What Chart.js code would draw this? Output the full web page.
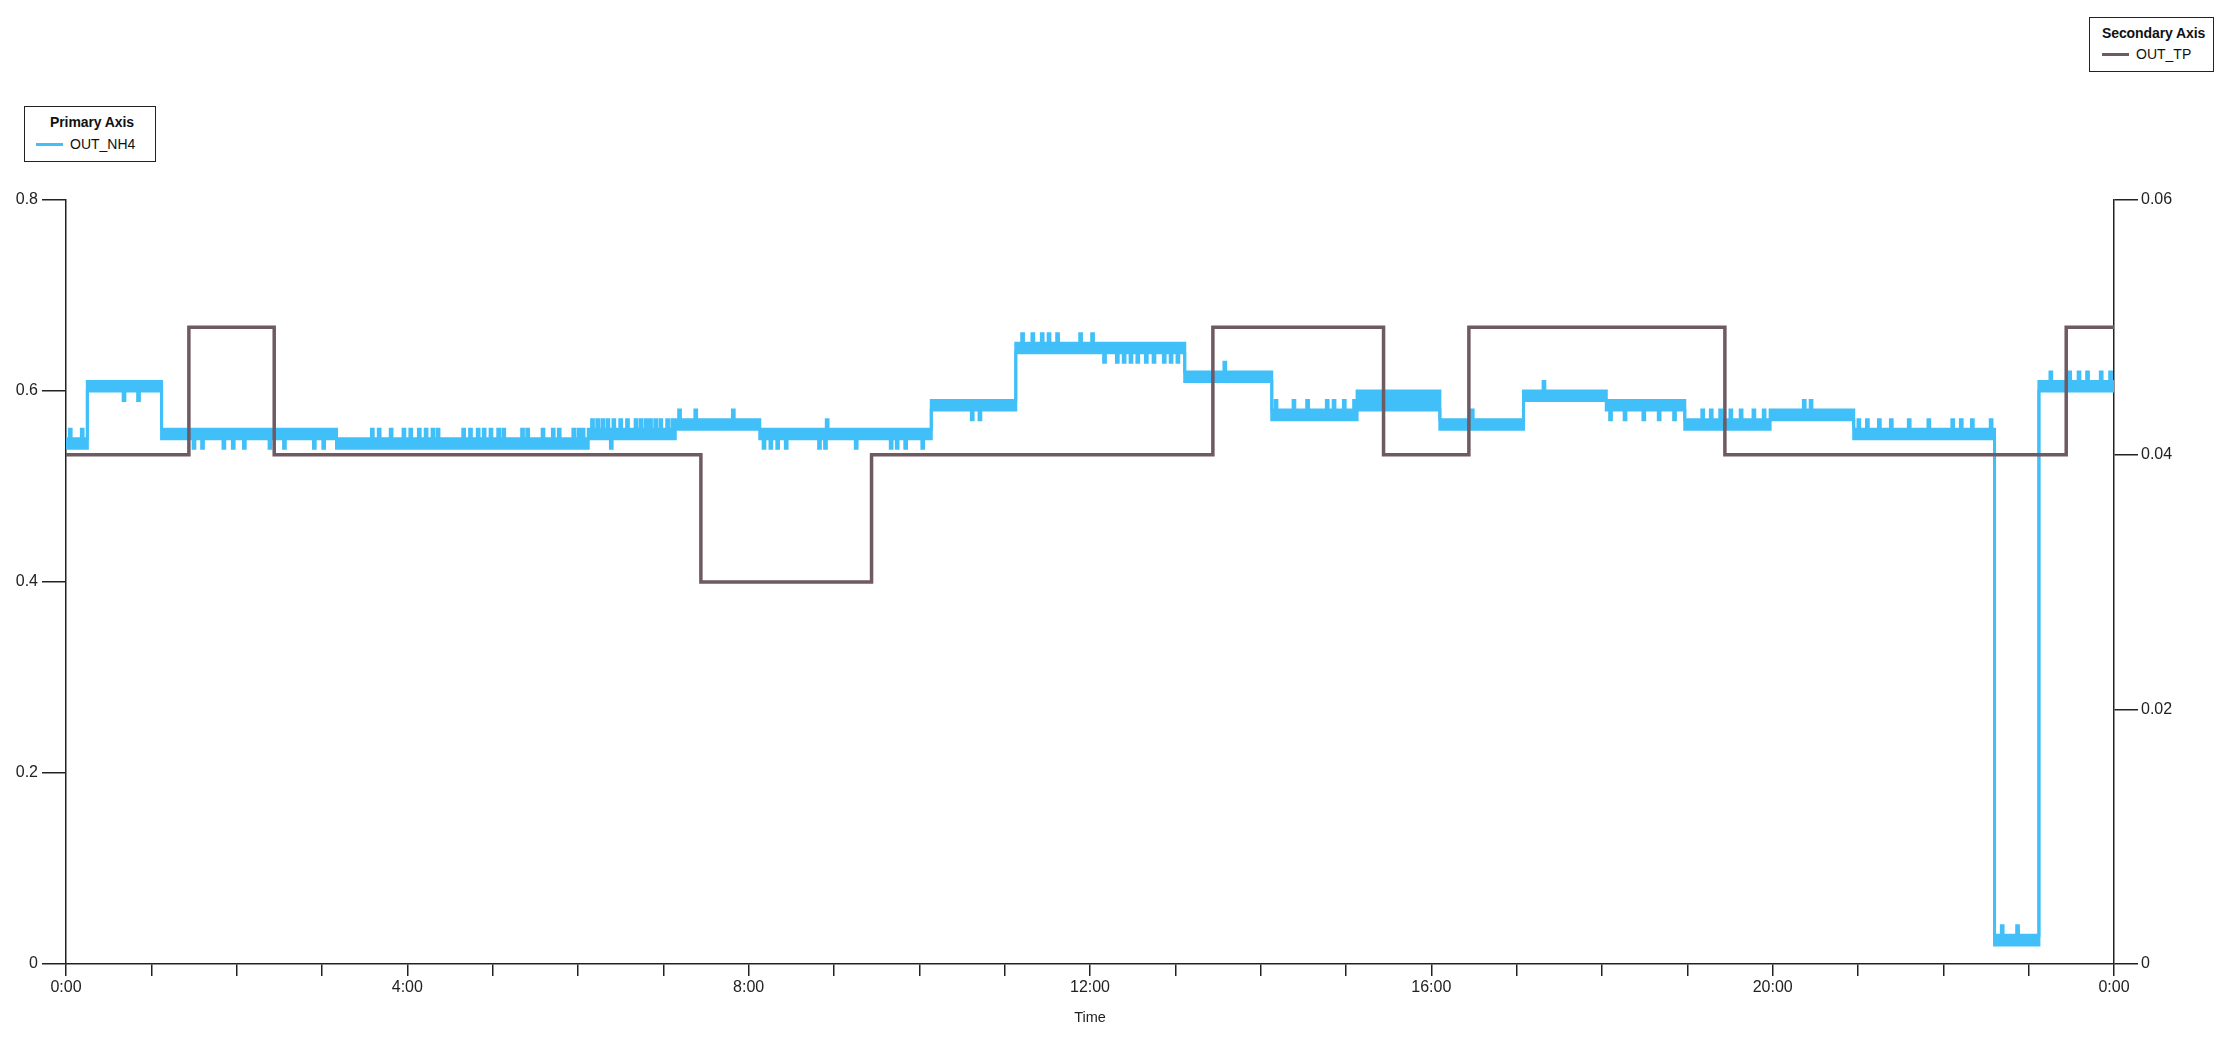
<!DOCTYPE html>
<html>
<head>
<meta charset="utf-8">
<title>OUT_NH4 / OUT_TP</title>
<script src="https://cdn.jsdelivr.net/npm/chart.js@4.4.1/dist/chart.umd.min.js"></script>
<style>
  html, body { margin: 0; padding: 0; background: #fff; }
  #wrap { position: relative; width: 2228px; height: 1041px; }
  .legend {
    position: absolute; box-sizing: border-box; background: #fff;
    border: 1.5px solid #222; color: #111;
    font-family: "Liberation Sans", Arial, sans-serif;
  }
  .legend .ttl { position: absolute; font-weight: bold; font-size: 14px; letter-spacing: -0.1px; white-space: nowrap; }
  .legend .swatch { position: absolute; height: 3px; width: 27px; }
  .legend .lbl { position: absolute; font-size: 14px; white-space: nowrap; }
</style>
</head>
<body>
<div id="wrap">
  <canvas id="chart"></canvas>
  <div class="legend" style="left:24px; top:106px; width:132px; height:56px;">
    <div class="ttl" style="left:25px; top:7px;">Primary Axis</div>
    <div class="swatch" style="left:11px; top:36px; background:#41bff8;"></div>
    <div class="lbl" style="left:45px; top:29px;">OUT_NH4</div>
  </div>
  <div class="legend" style="left:2089px; top:17px; width:125px; height:55px;">
    <div class="ttl" style="left:12px; top:7px;">Secondary Axis</div>
    <div class="swatch" style="left:12px; top:35px; background:#6e5a62;"></div>
    <div class="lbl" style="left:46px; top:28px;">OUT_TP</div>
  </div>
</div>
<script>
// OUT_NH4 (primary axis): hour each level starts, lower / upper value of the noisy band
let nh4Start = [0, 0.25, 1.12, 3.17, 6.12, 7.14, 8.13, 10.14, 11.13, 12.12, 13.11,
                14.13, 15.13, 16.10, 17.08, 18.05, 18.97, 19.97, 20.95, 22.60, 23.12];
let nh4Low  = [0.54, 0.60, 0.55, 0.54, 0.55, 0.56, 0.55, 0.58, 0.64, 0.64, 0.61,
               0.57, 0.58, 0.56, 0.59, 0.58, 0.56, 0.57, 0.55, 0.02, 0.60];
let nh4High = [0.55, 0.61, 0.56, 0.55, 0.56, 0.57, 0.56, 0.59, 0.65, 0.65, 0.62,
               0.58, 0.60, 0.57, 0.60, 0.59, 0.57, 0.58, 0.56, 0.03, 0.61];

// single-sample spikes of OUT_NH4 (hour, value)
let spikeHour = [0.04, 0.18, 0.67, 0.84,
  1.49, 1.59, 1.84, 1.95, 2.08, 2.38, 2.55, 2.90, 3.01,
  3.58, 3.66, 3.80, 3.95, 4.03, 4.13, 4.21, 4.29, 4.35, 4.65, 4.73, 4.82, 4.89, 4.97,
  5.06, 5.12, 5.34, 5.40, 5.58, 5.70, 5.77, 5.94, 6.00, 6.05,
  6.16, 6.22, 6.28, 6.34, 6.38, 6.41, 6.49, 6.57, 6.67, 6.73, 6.79, 6.84, 6.90, 6.96, 7.04, 7.10,
  7.18, 7.37, 7.81,
  8.17, 8.25, 8.33, 8.43, 8.82, 8.89, 8.91, 9.25, 9.66, 9.73, 9.83, 10.03,
  10.61, 10.70,
  11.20, 11.32, 11.43, 11.51, 11.61, 11.88, 12.02,
  12.16, 12.31, 12.39, 12.47, 12.55, 12.65, 12.74, 12.86, 12.94, 13.02,
  13.57,
  14.17, 14.38, 14.54, 14.77, 14.85, 14.97, 15.09,
  16.47, 17.31,
  18.09, 18.26, 18.48, 18.66, 18.84,
  19.17, 19.27, 19.38, 19.50, 19.62, 19.77, 19.89,
  20.36, 20.44,
  21.00, 21.10, 21.24, 21.38, 21.59, 21.82, 22.10, 22.20, 22.33, 22.55,
  22.68, 22.86,
  23.25, 23.47, 23.58, 23.68, 23.84, 23.95];
let spikeValue = [0.56, 0.56, 0.59, 0.59,
  0.54, 0.54, 0.54, 0.54, 0.54, 0.54, 0.54, 0.54, 0.54,
  0.56, 0.56, 0.56, 0.56, 0.56, 0.56, 0.56, 0.56, 0.56, 0.56, 0.56, 0.56, 0.56, 0.56,
  0.56, 0.56, 0.56, 0.56, 0.56, 0.56, 0.56, 0.56, 0.56, 0.56,
  0.57, 0.57, 0.57, 0.57, 0.54, 0.57, 0.57, 0.57, 0.57, 0.57, 0.57, 0.57, 0.57, 0.57, 0.57, 0.57,
  0.58, 0.58, 0.58,
  0.54, 0.54, 0.54, 0.54, 0.54, 0.54, 0.57, 0.54, 0.54, 0.54, 0.54, 0.54,
  0.57, 0.57,
  0.66, 0.66, 0.66, 0.66, 0.66, 0.66, 0.66,
  0.63, 0.63, 0.63, 0.63, 0.63, 0.63, 0.63, 0.63, 0.63, 0.63,
  0.63,
  0.59, 0.59, 0.59, 0.59, 0.59, 0.59, 0.59,
  0.58, 0.61,
  0.57, 0.57, 0.57, 0.57, 0.57,
  0.58, 0.58, 0.58, 0.58, 0.58, 0.58, 0.58,
  0.59, 0.59,
  0.57, 0.57, 0.57, 0.57, 0.57, 0.57, 0.57, 0.57, 0.57, 0.57,
  0.04, 0.04,
  0.62, 0.62, 0.62, 0.62, 0.62, 0.62];

// OUT_TP (secondary axis): hour of each change and the new value
let tpTime  = [0, 1.44, 2.44, 7.44, 9.44, 13.44, 15.44, 16.44, 19.44, 23.44, 24];
let tpValue = [0.04, 0.05, 0.04, 0.03, 0.04, 0.05, 0.04, 0.05, 0.04, 0.05, 0.05];

let xTickLabels = ['0:00', '4:00', '8:00', '12:00', '16:00', '20:00', '0:00'];

const blue = '#41bff8';
const brown = '#6e5a62';
const axisColor = '#222';
const spikeWidth = 0.02;
const tickFont = { family: '"Liberation Sans", Arial, sans-serif', size: 16 };

function buildBand(levels, isLow) {
  let pts = [];
  for (let i = 0; i < nh4Start.length; i++) {
    let end = i + 1 < nh4Start.length ? nh4Start[i + 1] : 24;
    let base = levels[i];
    pts.push({ x: nh4Start[i], y: base });
    for (let k = 0; k < spikeHour.length; k++) {
      let h = spikeHour[k], v = spikeValue[k];
      if (h <= nh4Start[i] || h >= end) continue;
      if ((isLow && v < base) || (!isLow && v > base)) {
        pts.push({ x: h, y: v });
        pts.push({ x: h + spikeWidth, y: base });
      }
    }
  }
  pts.push({ x: 24, y: levels[levels.length - 1] });
  return pts;
}

let tpPoints = tpTime.map((t, i) => ({ x: t, y: tpValue[i] }));

let ctx = document.getElementById('chart').getContext('2d');
let myChart = new Chart(ctx, {
  type: 'line',
  data: {
    datasets: [
      {
        label: 'OUT_TP',
        data: tpPoints,
        yAxisID: 'y2',
        borderColor: brown,
        borderWidth: 3.5,
        stepped: true,
        fill: false
      },
      {
        label: 'OUT_NH4',
        data: buildBand(nh4Low, true),
        yAxisID: 'y',
        borderColor: blue,
        borderWidth: 3,
        stepped: true,
        fill: false
      },
      {
        label: 'OUT_NH4 upper',
        data: buildBand(nh4High, false),
        yAxisID: 'y',
        borderColor: blue,
        backgroundColor: blue,
        borderWidth: 3,
        stepped: true,
        fill: 1
      }
    ]
  },
  options: {
    responsive: true,
    maintainAspectRatio: false,
    animation: false,
    layout: { padding: { top: 200, left: 0, right: 0, bottom: 0 } },
    elements: { point: { radius: 0 }, line: { tension: 0 } },
    plugins: {
      legend: { display: false },
      tooltip: { enabled: false }
    },
    scales: {
      x: {
        type: 'linear',
        min: 0,
        max: 24,
        afterFit: (s) => { s.height = 77; },
        afterBuildTicks: (s) => {
          s.ticks = [];
          for (let h = 0; h <= 24; h++) s.ticks.push({ value: h });
        },
        ticks: {
          autoSkip: false,
          maxRotation: 0,
          color: axisColor,
          font: tickFont,
          padding: 2,
          callback: (v) => (v % 4 === 0 ? xTickLabels[v / 4] : '')
        },
        grid: { drawOnChartArea: false, drawTicks: true, tickLength: 12, color: axisColor, lineWidth: 1.5 },
        border: { display: true, color: axisColor, width: 1.5 },
        title: {
          display: true,
          text: 'Time',
          color: axisColor,
          font: { family: '"Liberation Sans", Arial, sans-serif', size: 14.5 },
          padding: { top: 0, bottom: 14 }
        }
      },
      y: {
        position: 'left',
        min: 0,
        max: 0.8,
        afterFit: (s) => { s.width = 66; },
        ticks: {
          stepSize: 0.2,
          color: axisColor,
          font: tickFont,
          padding: 4,
          callback: (v) => String(parseFloat(v.toFixed(2)))
        },
        grid: { drawOnChartArea: false, drawTicks: true, tickLength: 24, color: axisColor, lineWidth: 1.5 },
        border: { display: true, color: axisColor, width: 1.5 }
      },
      y2: {
        position: 'right',
        min: 0,
        max: 0.06,
        afterFit: (s) => { s.width = 114; },
        ticks: {
          stepSize: 0.02,
          color: axisColor,
          font: tickFont,
          padding: 3,
          callback: (v) => String(parseFloat(v.toFixed(3)))
        },
        grid: { drawOnChartArea: false, drawTicks: true, tickLength: 24, color: axisColor, lineWidth: 1.5 },
        border: { display: true, color: axisColor, width: 1.5 }
      }
    }
  }
});
</script>
</body>
</html>
